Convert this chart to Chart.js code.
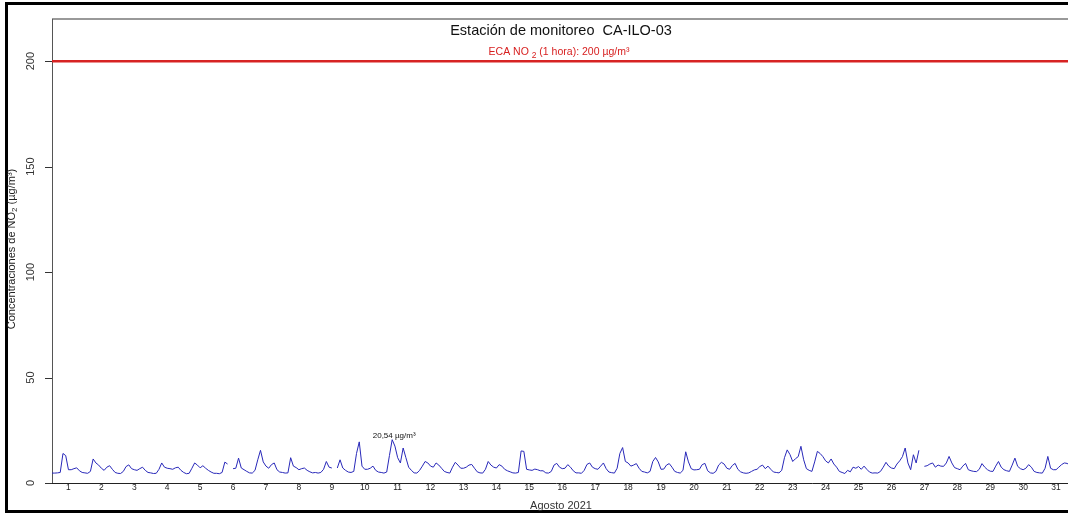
<!DOCTYPE html>
<html>
<head>
<meta charset="utf-8">
<script src="https://cdn.jsdelivr.net/npm/chart.js@4.4.0/dist/chart.umd.min.js"></script>
<style>
  html, body { margin: 0; padding: 0; background: #fff; overflow: hidden; }
</style>
</head>
<body>
<canvas id="grafico" width="1068" height="514"></canvas>
<script>
// NO2 (ug/m3) cada 2 horas: 0,2,4,...,22 h  -- null = sin dato
const semana1 = [ // dias 1-7
  4.7,4.7,4.8,5.0,14.0,13.0,6.3,6.3,6.8,7.2,5.8,5.0,
  4.8,4.6,5.5,11.4,9.5,8.5,7.0,6.0,7.5,8.2,6.5,5.0,
  4.6,4.5,5.5,7.8,8.6,6.8,6.3,6.0,6.8,7.5,6.0,5.0,
  4.8,4.5,4.6,6.5,9.5,7.5,7.0,6.8,6.5,7.2,7.5,6.0,
  5.0,4.4,4.6,7.0,9.5,8.5,7.2,8.2,7.0,6.0,5.2,4.6,
  4.6,4.4,5.0,9.9,9.0,null,6.8,7.0,11.8,7.1,6.3,5.5,
  4.8,4.7,6.0,11.0,15.5,10.0,8.0,7.0,8.7,9.5,6.3,5.2
];
const semana2 = [ // dias 8-14
  5.0,4.7,4.8,12.0,8.0,7.3,6.3,6.8,7.1,6.0,5.3,4.8,
  5.0,4.7,5.0,6.5,10.2,7.5,7.1,null,7.1,11.0,7.1,6.0,
  5.2,5.0,5.5,14.0,19.5,8.0,6.5,6.5,7.0,8.0,6.0,5.2,
  5.0,4.7,5.2,13.0,20.54,17.5,12.0,9.5,16.6,12.0,7.5,6.0,
  4.8,4.7,6.0,8.0,10.2,9.5,8.0,7.5,9.5,8.5,7.0,5.5,
  5.0,4.7,7.5,9.8,8.5,7.0,7.0,7.5,8.5,8.8,7.0,5.3,
  4.8,4.7,6.5,10.2,8.5,7.5,7.1,8.7,8.0,6.5,5.8,5.3
];
const semana3 = [ // dias 15-21
  4.8,4.7,5.0,15.2,15.0,6.5,6.2,6.0,6.6,6.3,5.8,5.8,
  4.8,4.7,5.5,8.5,9.3,7.5,6.8,7.0,8.7,7.5,5.8,4.8,
  4.8,4.6,6.0,8.8,9.5,7.5,6.8,6.5,8.0,9.5,6.8,5.2,
  4.9,4.7,7.0,14.0,16.8,10.2,9.5,8.0,8.5,9.2,7.0,5.5,
  5.2,4.8,5.5,10.2,12.1,10.0,6.5,6.6,8.5,9.2,7.5,5.5,
  5.0,4.7,6.0,14.8,10.0,6.8,6.2,6.3,6.5,8.7,9.3,5.8,
  4.8,4.6,5.5,8.5,9.8,9.0,7.0,6.5,8.3,9.3,6.5,5.3
];
const semana4 = [ // dias 22-28
  4.8,4.6,4.8,5.5,6.2,6.5,7.8,8.5,6.8,8.0,6.5,5.2,
  5.0,4.8,6.0,12.0,15.7,13.5,10.2,11.5,12.5,17.4,11.0,6.8,
  6.0,5.5,10.0,15.0,14.0,12.5,10.5,9.5,11.4,9.0,7.5,5.5,
  5.0,4.5,6.0,5.3,7.5,7.0,7.8,6.5,8.0,6.5,5.2,4.7,
  4.8,4.7,5.5,7.5,9.8,8.0,7.1,6.8,9.0,10.5,12.5,16.6,
  9.5,6.3,13.4,9.5,15.5,null,7.9,8.2,9.0,9.5,7.5,8.5,
  8.0,7.9,9.5,12.6,9.5,7.3,6.8,6.3,8.0,9.3,6.3,5.8
];
const semana5 = [ // dias 29-31
  5.5,5.4,6.5,9.2,7.5,6.3,5.6,5.5,8.0,10.2,7.5,6.3,
  5.8,5.5,8.5,11.8,7.9,6.8,6.3,7.0,8.7,7.5,5.5,5.0,
  4.8,4.7,7.0,12.6,7.0,6.3,6.3,7.5,8.7,9.5,9.3,8.5
];

const dias = [1,2,3,4,5,6,7,8,9,10,11,12,13,14,15,16,17,18,19,20,21,22,23,24,25,26,27,28,29,30,31];
const yTicks = [0, 50, 100, 150, 200];
const eca = 200;
const pasoHoras = 2;

const no2 = [].concat(semana1, semana2, semana3, semana4, semana5);
const puntos = no2.map((v, i) => ({ x: i * pasoHoras, y: v }));

const FONT = '"Liberation Sans", Arial, sans-serif';
const xMax = 740.7; // horas visibles en el recorte

const adornos = {
  id: 'adornos',
  beforeDatasetsDraw(chart) {
    const c = chart.ctx, a = chart.chartArea;
    const sy = chart.scales.y;
    c.save();
    // marco negro exterior
    c.strokeStyle = '#000'; c.lineWidth = 3;
    c.beginPath();
    c.moveTo(1068, 3.5); c.lineTo(6.5, 3.5); c.lineTo(6.5, 511.5); c.lineTo(1068, 511.5);
    c.stroke();
    // borde superior gris
    c.strokeStyle = '#999'; c.lineWidth = 2;
    c.beginPath(); c.moveTo(a.left, a.top); c.lineTo(a.right, a.top); c.stroke();
    // eje y
    c.strokeStyle = '#555'; c.lineWidth = 1;
    c.beginPath(); c.moveTo(a.left + 0.5, a.top); c.lineTo(a.left + 0.5, a.bottom); c.stroke();
    // eje x
    c.strokeStyle = '#222';
    c.beginPath(); c.moveTo(45, a.bottom + 0.5); c.lineTo(a.right, a.bottom + 0.5); c.stroke();
    // marcas y
    c.strokeStyle = '#333';
    yTicks.forEach(t => {
      const py = Math.round(sy.getPixelForValue(t)) + 0.5;
      c.beginPath(); c.moveTo(45, py); c.lineTo(a.left, py); c.stroke();
    });
    c.restore();
  },
  afterDraw(chart) {
    const c = chart.ctx, a = chart.chartArea;
    const sx = chart.scales.x, sy = chart.scales.y;
    c.save();
    // etiquetas eje y (rotadas)
    c.fillStyle = '#333'; c.font = '11px ' + FONT;
    c.textAlign = 'center'; c.textBaseline = 'middle';
    yTicks.forEach(t => {
      c.save();
      c.translate(31, sy.getPixelForValue(t));
      c.rotate(-Math.PI / 2);
      c.fillText(String(t), 0, 0);
      c.restore();
    });
    // titulo eje y
    c.save();
    c.translate(12, 249);
    c.rotate(-Math.PI / 2);
    c.font = '11px ' + FONT; c.fillStyle = '#222';
    const p1 = 'Concentraciones de NO', p2 = '2', p3 = ' (µg/m³)';
    c.font = '11px ' + FONT; const w1 = c.measureText(p1).width, w3 = c.measureText(p3).width;
    c.font = '8px ' + FONT; const w2 = c.measureText(p2).width;
    let x0 = -(w1 + w2 + w3) / 2;
    c.textAlign = 'left';
    c.font = '11px ' + FONT; c.fillText(p1, x0, 0);
    c.font = '8px ' + FONT; c.fillText(p2, x0 + w1, 3);
    c.font = '11px ' + FONT; c.fillText(p3, x0 + w1 + w2, 0);
    c.restore();
    // etiquetas eje x (dias, al mediodia)
    c.fillStyle = '#222'; c.font = '8.5px ' + FONT;
    c.textAlign = 'center'; c.textBaseline = 'middle';
    dias.forEach(d => {
      const px = sx.getPixelForValue((d - 1) * 24 + 12);
      if (px < 1066) c.fillText(String(d), px, 488);
    });
    c.font = '11px ' + FONT; c.fillStyle = '#333';
    c.fillText('Agosto 2021', 561, 506);
    // titulo
    c.font = '14.5px ' + FONT; c.fillStyle = '#111';
    c.fillText('Estación de monitoreo  CA-ILO-03', 561, 31);
    // etiqueta ECA
    c.fillStyle = 'rgb(215,30,30)';
    const e1 = 'ECA NO ', e2 = '2', e3 = ' (1 hora): 200 µg/m³';
    c.font = '10.5px ' + FONT; const we1 = c.measureText(e1).width, we3 = c.measureText(e3).width;
    c.font = '8.5px ' + FONT; const we2 = c.measureText(e2).width;
    let ex = 559 - (we1 + we2 + we3) / 2;
    c.textAlign = 'left';
    c.font = '10.5px ' + FONT; c.fillText(e1, ex, 52);
    c.font = '8.5px ' + FONT; c.fillText(e2, ex + we1, 56);
    c.font = '10.5px ' + FONT; c.fillText(e3, ex + we1 + we2, 52);
    // maximo
    let iMax = 0;
    no2.forEach((v, i) => { if (v !== null && v > no2[iMax]) iMax = i; });
    const mx = sx.getPixelForValue(iMax * pasoHoras), my = sy.getPixelForValue(no2[iMax]);
    c.textAlign = 'center'; c.fillStyle = '#111'; c.font = '8px ' + FONT;
    c.fillText(no2[iMax].toFixed(2).replace('.', ',') + ' µg/m³', mx + 2, my - 4);
    c.restore();
  }
};

new Chart(document.getElementById('grafico'), {
  type: 'line',
  data: {
    datasets: [
      {
        label: 'ECA',
        data: [{ x: 0, y: eca }, { x: xMax, y: eca }],
        borderColor: 'rgb(215,35,35)',
        borderWidth: 2.5,
        pointRadius: 0
      },
      {
        label: 'NO2',
        data: puntos,
        borderColor: 'rgb(40,40,185)',
        borderWidth: 1,
        pointRadius: 0,
        tension: 0,
        spanGaps: false
      }
    ]
  },
  options: {
    responsive: false,
    animation: false,
    layout: { padding: { left: 52, right: 0, top: 19, bottom: 31 } },
    plugins: { legend: { display: false }, tooltip: { enabled: false } },
    scales: {
      x: { type: 'linear', display: false, min: 0, max: xMax },
      y: { display: false, min: 0, max: 220 }
    }
  },
  plugins: [adornos]
});
</script>
</body>
</html>
